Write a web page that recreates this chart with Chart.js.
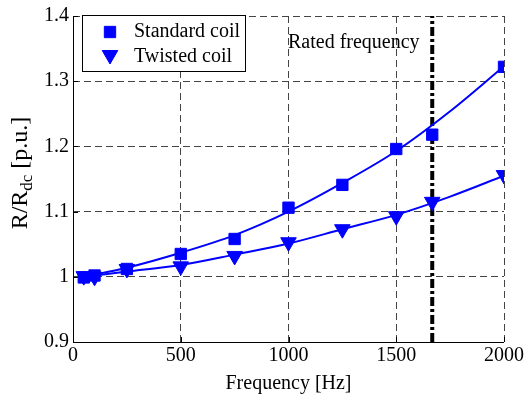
<!DOCTYPE html>
<html>
<head>
<meta charset="utf-8">
<script src="https://cdn.jsdelivr.net/npm/chart.js@4/dist/chart.umd.min.js"></script>
<style>
html,body{margin:0;padding:0;background:#fff;}
#wrap{width:526px;height:398px;position:relative;}
</style>
</head>
<body>
<div id="wrap"><canvas id="c" width="526" height="398"></canvas></div>
<script>
// Measured points
const freq = [50, 100, 250, 500, 750, 1000, 1250, 1500, 1667, 2000];
const standardCoil = [0.999, 1.002, 1.012, 1.035, 1.058, 1.106, 1.141, 1.196, 1.218, 1.322];
const twistedCoil = [1.001, 1.000, 1.012, 1.016, 1.032, 1.053, 1.073, 1.093, 1.115, 1.156];
// Fitted curves
const fitFreq = [50, 250, 500, 750, 1000, 1250, 1500, 1750, 2000];
const standardFit = [1.000, 1.014, 1.037, 1.064, 1.100, 1.144, 1.193, 1.254, 1.323];
const twistedFit = [1.000, 1.008, 1.018, 1.034, 1.051, 1.073, 1.095, 1.123, 1.155];
// Rated frequency marker
const ratedFrequency = 1667;
const xTicks = [0, 500, 1000, 1500, 2000];
const yTicks = [0.9, 1.0, 1.1, 1.2, 1.3, 1.4];
const seriesNames = ['Standard coil', 'Twisted coil'];

const FONT = '"Liberation Serif", "Times New Roman", serif';
const BLUE = '#0000ff';
const toXY = (xs, ys) => xs.map((x, i) => ({x: x, y: ys[i]}));

const innerTicks = {
  id: 'innerTicks',
  afterDatasetsDraw(chart) {
    const ctx = chart.ctx, a = chart.chartArea;
    const xs = chart.scales.x, ys = chart.scales.y;
    ctx.save();
    ctx.strokeStyle = '#000';
    ctx.lineWidth = 1;
    ctx.setLineDash([]);
    ctx.beginPath();
    xTicks.forEach(v => {
      const p = Math.round(xs.getPixelForValue(v)) + 0.5;
      ctx.moveTo(p, a.bottom); ctx.lineTo(p, a.bottom - 5);
    });
    yTicks.forEach(v => {
      const p = Math.round(ys.getPixelForValue(v)) + 0.5;
      ctx.moveTo(a.left, p); ctx.lineTo(a.left + 5, p);
    });
    // solid axis lines (left and bottom)
    ctx.moveTo(Math.round(a.left) + 0.5, a.top); ctx.lineTo(Math.round(a.left) + 0.5, a.bottom);
    ctx.moveTo(a.left, Math.round(a.bottom) + 0.5); ctx.lineTo(a.right, Math.round(a.bottom) + 0.5);
    ctx.stroke();
    ctx.restore();
  }
};

const extras = {
  id: 'extras',
  afterDraw(chart) {
    const ctx = chart.ctx;
    ctx.save();
    // y axis title with subscript
    ctx.translate(21, 173);
    ctx.rotate(-Math.PI / 2);
    ctx.fillStyle = '#000';
    ctx.textBaseline = 'middle';
    const f1 = '24px ' + FONT, f2 = '17px ' + FONT;
    ctx.font = f1; const w1 = ctx.measureText('R/R').width;
    ctx.font = f2; const w2 = ctx.measureText('dc').width;
    ctx.font = f1; const w3 = ctx.measureText(' [p.u.]').width;
    let x0 = -(w1 + w2 + w3) / 2;
    ctx.font = f1; ctx.fillText('R/R', x0, 0);
    ctx.font = f2; ctx.fillText('dc', x0 + w1, 7);
    ctx.font = f1; ctx.fillText(' [p.u.]', x0 + w1 + w2, 0);
    ctx.restore();

    // Rated frequency label
    ctx.save();
    ctx.font = '20px ' + FONT;
    ctx.fillStyle = '#000';
    ctx.textBaseline = 'middle';
    ctx.fillText('Rated frequency', 288, 43);
    ctx.restore();

    // Legend box
    ctx.save();
    ctx.fillStyle = '#fff';
    ctx.fillRect(82, 15, 163, 56);
    ctx.strokeStyle = '#000';
    ctx.lineWidth = 1;
    ctx.strokeRect(82.5, 15.5, 163, 56);
    const styles = [
      {pointStyle: 'rect', radius: 8, rotation: 0, y: 32},
      {pointStyle: 'triangle', radius: 9, rotation: 180, y: 57}
    ];
    styles.forEach((s, i) => {
      ctx.fillStyle = BLUE; ctx.strokeStyle = BLUE; ctx.lineWidth = 1;
      Chart.helpers.drawPoint(ctx, {pointStyle: s.pointStyle, radius: s.radius, rotation: s.rotation, borderWidth: 1}, 110, s.y + (i === 1 ? -2 : 0));
      ctx.fillStyle = '#000';
      ctx.font = '20px ' + FONT;
      ctx.textBaseline = 'middle';
      ctx.fillText(seriesNames[i], 134, s.y);
    });
    ctx.restore();
  }
};

new Chart(document.getElementById('c'), {
  type: 'scatter',
  data: {
    datasets: [
      {label: 'Rated', data: [{x: ratedFrequency, y: 0.9}, {x: ratedFrequency, y: 1.4}], showLine: true,
       borderColor: '#000', borderWidth: 4, borderDash: [9, 3, 3, 3], pointRadius: 0, order: 5},
      {label: seriesNames[0] + ' fit', data: toXY(fitFreq, standardFit), showLine: true,
       borderColor: BLUE, borderWidth: 2, pointRadius: 0, cubicInterpolationMode: 'monotone'},
      {label: seriesNames[1] + ' fit', data: toXY(fitFreq, twistedFit), showLine: true,
       borderColor: BLUE, borderWidth: 2, pointRadius: 0, cubicInterpolationMode: 'monotone'},
      {label: seriesNames[0], data: toXY(freq, standardCoil), showLine: false,
       pointStyle: 'rect', pointRadius: 8, backgroundColor: BLUE, borderColor: BLUE, borderWidth: 1},
      {label: seriesNames[1], data: toXY(freq, twistedCoil), showLine: false,
       pointStyle: 'triangle', rotation: 180, pointRadius: 9, backgroundColor: BLUE, borderColor: BLUE, borderWidth: 1}
    ]
  },
  options: {
    responsive: false,
    animation: false,
    layout: {padding: {top: 8, right: 21, left: 0, bottom: 0}},
    plugins: {legend: {display: false}, tooltip: {enabled: false}},
    scales: {
      x: {
        type: 'linear', min: 0, max: 2000,
        afterBuildTicks: s => { s.ticks = xTicks.map(v => ({value: v})); },
        afterFit: s => { s.height = 56; },
        ticks: {color: '#000', font: {family: FONT, size: 20}, padding: 2, maxRotation: 0,
                callback: v => String(v)},
        grid: {color: '#444', lineWidth: 1, drawTicks: false, tickLength: 0},
        border: {display: false, dash: [7, 4]},
        title: {display: true, text: 'Frequency [Hz]', color: '#000', font: {family: FONT, size: 20}, padding: {top: 0, bottom: 2}}
      },
      y: {
        type: 'linear', min: 0.9, max: 1.4,
        afterBuildTicks: s => { s.ticks = yTicks.map(v => ({value: v})); },
        afterFit: s => { s.width = 73; },
        ticks: {color: '#000', font: {family: FONT, size: 20}, padding: 4,
                callback: v => String(parseFloat(Number(v).toFixed(1)))},
        grid: {color: '#444', lineWidth: 1, drawTicks: false, tickLength: 0},
        border: {display: false, dash: [7, 4]}
      }
    }
  },
  plugins: [innerTicks, extras]
});
</script>
</body>
</html>
